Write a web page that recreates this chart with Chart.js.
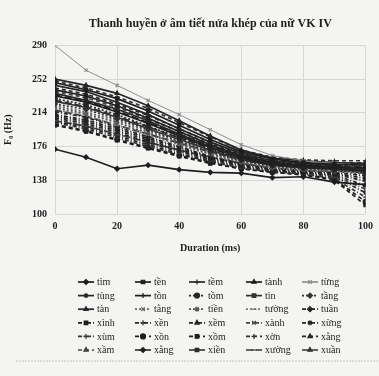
<!DOCTYPE html>
<html>
<head>
<meta charset="utf-8">
<script src="https://cdn.jsdelivr.net/npm/chart.js@4"></script>
<style>
  html, body { margin: 0; padding: 0; background: #f4f4f2; }
  #wrap { width: 379px; height: 376px; }
</style>
</head>
<body>
<div id="wrap"><canvas id="f0Chart" width="379" height="376"></canvas></div>
<script>
// durations (ms)
const durations = [0, 10, 20, 30, 40, 50, 60, 70, 80, 90, 100];
const yTicks = [100, 138, 176, 214, 252, 290];

const names = [
  'tìm', 'tền', 'tềm', 'tành', 'từng',
  'tùng', 'tồn', 'tồm', 'tìn', 'tầng',
  'tàn', 'tằng', 'tiền', 'tường', 'tuần',
  'xình', 'xền', 'xềm', 'xành', 'xừng',
  'xùm', 'xồn', 'xồm', 'xờn', 'xằng',
  'xầm', 'xằng', 'xiền', 'xường', 'xuần'
];

// F0 values per syllable
const tim    = [173, 164, 151, 155, 150, 147, 146, 141, 142, 136, 133];
const ten    = [248, 240, 230, 216, 200, 184, 170, 162, 158, 156, 155];
const tem    = [245, 238, 226, 212, 196, 181, 168, 160, 157, 155, 150];
const tanh   = [240, 233, 222, 208, 193, 178, 166, 158, 155, 153, 152];
const tung1  = [290, 262, 245, 228, 212, 195, 178, 166, 160, 157, 155];
const tung2  = [236, 228, 218, 205, 190, 176, 165, 157, 154, 152, 150];
const ton    = [233, 226, 215, 202, 188, 175, 163, 156, 153, 151, 148];
const tom    = [230, 223, 212, 199, 186, 173, 162, 155, 152, 150, 146];
const tin    = [227, 220, 209, 196, 184, 172, 161, 155, 152, 151, 149];
const tang1  = [224, 218, 207, 195, 182, 170, 160, 154, 151, 150, 150];
const tan    = [252, 245, 236, 222, 205, 188, 172, 163, 160, 158, 157];
const tang2  = [222, 215, 205, 193, 181, 169, 159, 153, 150, 149, 147];
const tien   = [220, 213, 203, 191, 179, 168, 158, 152, 150, 148, 145];
const tuong  = [218, 211, 200, 189, 178, 167, 158, 152, 149, 148, 146];
const tuan   = [215, 209, 198, 187, 176, 165, 157, 151, 149, 147, 143];
const xinh   = [212, 206, 196, 185, 175, 164, 156, 151, 148, 146, 140];
const xen    = [210, 204, 194, 183, 173, 163, 155, 150, 147, 145, 137];
const xem    = [208, 202, 192, 181, 171, 162, 154, 149, 147, 144, 132];
const xanh   = [206, 200, 190, 180, 170, 161, 153, 149, 146, 143, 128];
const xung   = [204, 198, 188, 178, 168, 160, 152, 148, 146, 142, 124];
const xum    = [203, 196, 186, 176, 167, 159, 152, 148, 145, 140, 119];
const xon1   = [201, 194, 184, 175, 166, 158, 151, 147, 145, 139, 114];
const xom    = [200, 193, 183, 174, 165, 157, 151, 147, 144, 138, 110];
const xon2   = [250, 242, 232, 219, 203, 187, 172, 164, 161, 160, 160];
const xang1  = [242, 235, 224, 211, 196, 181, 168, 160, 157, 156, 158];
const xam    = [238, 231, 220, 207, 193, 179, 167, 159, 156, 155, 154];
const xang2  = [234, 227, 216, 203, 190, 177, 165, 158, 155, 154, 153];
const xien   = [228, 221, 210, 198, 186, 174, 163, 157, 154, 153, 151];
const xuong  = [217, 210, 200, 190, 180, 170, 161, 155, 152, 151, 152];
const xuan   = [205, 199, 190, 181, 172, 164, 157, 152, 149, 148, 149];

const seriesValues = [
  tim, ten, tem, tanh, tung1, tung2, ton, tom, tin, tang1,
  tan, tang2, tien, tuong, tuan, xinh, xen, xem, xanh, xung,
  xum, xon1, xom, xon2, xang1, xam, xang2, xien, xuong, xuan
];

// styles: [point style, dash, colour]
const solid = [], dot = [2, 2], dashDot = [4, 2, 1, 2], dash = [4, 3], longDash = [7, 3];
const styles = [
  ['rectRot', solid, '#1e1e1e'], ['rect', solid, '#1e1e1e'], ['cross', solid, '#262626'], ['triangle', solid, '#1e1e1e'], ['crossRot', solid, '#8e8e8e'],
  ['star', solid, '#262626'], ['cross', solid, '#1e1e1e'], ['circle', dot, '#262626'], ['rect', solid, '#333'], ['rectRot', dot, '#333'],
  ['triangle', solid, '#262626'], ['crossRot', dot, '#666'], ['star', dot, '#555'], ['line', dot, '#777'], ['rectRot', dashDot, '#262626'],
  ['rect', dashDot, '#1e1e1e'], ['cross', dashDot, '#262626'], ['triangle', dashDot, '#262626'], ['crossRot', dashDot, '#444'], ['star', dashDot, '#262626'],
  ['cross', dashDot, '#333'], ['circle', dash, '#1e1e1e'], ['rect', dash, '#1e1e1e'], ['cross', dash, '#333'], ['triangle', dash, '#262626'],
  ['triangle', dash, '#444'], ['rectRot', longDash, '#1e1e1e'], ['rect', longDash, '#262626'], ['line', longDash, '#333'], ['triangle', longDash, '#333']
];

const datasets = names.map((n, i) => ({
  label: n,
  data: seriesValues[i].map((v, j) => ({ x: durations[j], y: v })),
  borderColor: styles[i][2],
  backgroundColor: styles[i][2],
  borderWidth: i === 4 ? 1 : 1.7,
  borderDash: styles[i][1],
  pointStyle: styles[i][0],
  pointRadius: 2.3,
  pointBorderWidth: 1.2,
  tension: 0
}));

const serif = '"Liberation Serif", "DejaVu Serif", serif';

// paper background
const bgPlugin = {
  id: 'bg',
  beforeDraw(chart) {
    const c = chart.ctx;
    c.save();
    c.fillStyle = '#f4f4f2';
    c.fillRect(0, 0, chart.width, chart.height);
    c.restore();
  }
};

// 5 x 6 legend grid under the plot
const gridLegend = {
  id: 'gridLegend',
  afterDraw(chart) {
    const c = chart.ctx;
    const cols = [78, 135, 189, 246, 302];
    const y0 = 282, rowH = 13.6;
    c.save();
    chart.data.datasets.forEach((ds, i) => {
      const x = cols[i % 5];
      const y = y0 + Math.floor(i / 5) * rowH;
      c.strokeStyle = ds.borderColor;
      c.fillStyle = ds.borderColor;
      c.lineWidth = 1.7;
      c.setLineDash(ds.borderDash);
      c.beginPath();
      c.moveTo(x, y);
      c.lineTo(x + 16, y);
      c.stroke();
      c.setLineDash([]);
      c.lineWidth = 1.2;
      Chart.helpers.drawPoint(c, { pointStyle: ds.pointStyle, radius: 2.5, rotation: 0, borderWidth: 1.2 }, x + 8, y);
      c.fillStyle = '#1e1e1e';
      c.font = '10px ' + serif;
      c.textBaseline = 'middle';
      c.fillText(ds.label, x + 19, y + 0.5);
    });
    // separator line at the bottom
    c.strokeStyle = '#c4c4c4';
    c.lineWidth = 1;
    c.setLineDash([2, 1]);
    c.beginPath();
    c.moveTo(16, 361);
    c.lineTo(379, 361);
    c.stroke();
    c.restore();
  }
};

new Chart(document.getElementById('f0Chart').getContext('2d'), {
  type: 'line',
  data: { datasets },
  plugins: [bgPlugin, gridLegend],
  options: {
    responsive: false,
    animation: false,
    layout: { padding: { left: 0, right: 11, top: 0, bottom: 118 } },
    plugins: {
      legend: { display: false },
      tooltip: { enabled: false },
      title: {
        display: true,
        fullSize: false,
        text: 'Thanh huyền ở âm tiết nửa khép của nữ VK IV',
        color: '#1e1e1e',
        font: { family: serif, size: 12, weight: 'bold' },
        padding: { top: 17, bottom: 14 }
      }
    },
    scales: {
      x: {
        type: 'linear',
        min: 0, max: 100,
        ticks: { stepSize: 20, color: '#1e1e1e', font: { family: serif, size: 10, weight: 'bold' }, padding: 6 },
        grid: { color: '#d6d6d6', drawTicks: false },
        border: { display: false },
        title: { display: true, text: 'Duration (ms)', color: '#1e1e1e', font: { family: serif, size: 10, weight: 'bold' }, padding: { top: 4 } }
      },
      y: {
        min: 100, max: 290,
        afterBuildTicks(scale) { scale.ticks = yTicks.map(v => ({ value: v })); },
        afterFit(scale) { scale.width = 55; },
        ticks: { color: '#1e1e1e', font: { family: serif, size: 10, weight: 'bold' }, padding: 8 },
        grid: { color: '#d6d6d6', drawTicks: false },
        border: { display: false },
        title: { display: true, text: 'F₀ (Hz)', color: '#1e1e1e', font: { family: serif, size: 10, weight: 'bold' }, padding: 2 }
      }
    }
  }
});
</script>
</body>
</html>
